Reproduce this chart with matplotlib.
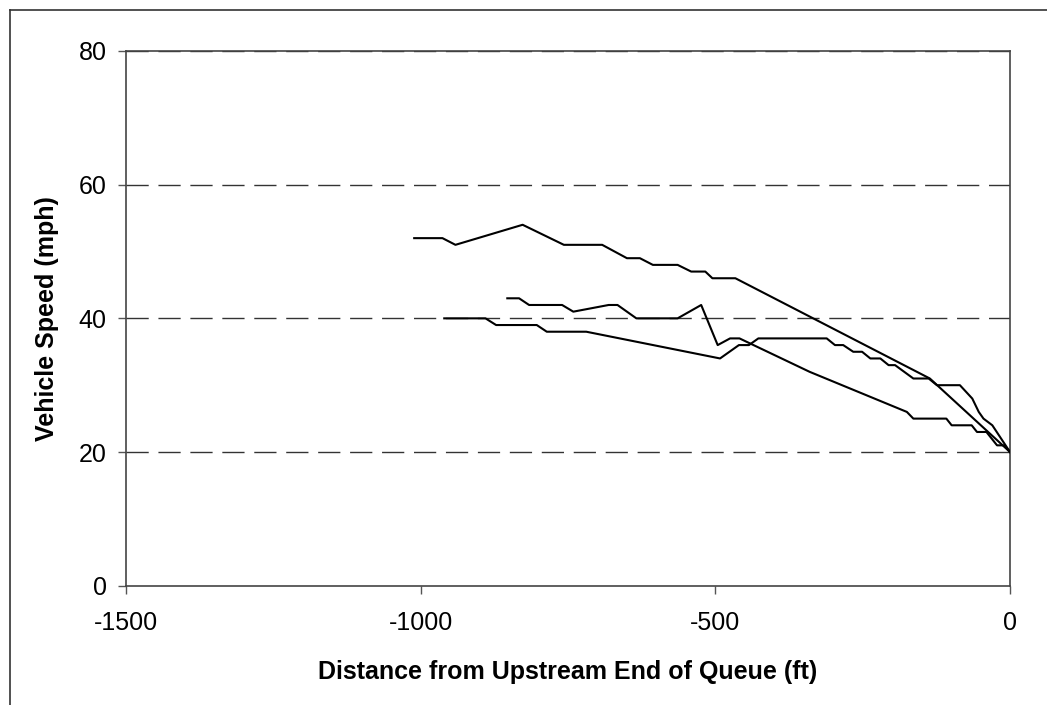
import matplotlib
matplotlib.use("Agg")
import matplotlib.pyplot as plt
from matplotlib.lines import Line2D

plt.rcParams['font.family'] = ['Liberation Sans', 'DejaVu Sans']
plt.rcParams['axes.unicode_minus'] = False

# Series A (upper)
dist_a = [-1011, -963, -941, -827, -757, -692, -650, -628, -606, -564, -541, -517, -505, -466, -136, 0]
speed_a = [52, 52, 51, 54, 51, 51, 49, 49, 48, 48, 47, 47, 46, 46, 31, 20]

# Series B
dist_b = [-853, -833, -816, -760, -741, -681, -666, -634, -564, -524, -496, -475, -459, -340, -175,
          -164, -108, -99, -65, -56, -40, -22, -10, 0]
speed_b = [43, 43, 42, 42, 41, 42, 42, 40, 40, 42, 36, 37, 37, 32, 26,
           25, 25, 24, 24, 23, 23, 21, 21, 20]

# Series C
dist_c = [-960, -890, -872, -803, -786, -719, -492, -460, -443, -427, -311, -297, -283, -266, -251,
          -237, -220, -206, -195, -164, -138, -124, -85, -64, -53, -45, -30, 0]
speed_c = [40, 40, 39, 39, 38, 38, 34, 36, 36, 37, 37, 36, 36, 35, 35,
           34, 34, 33, 33, 31, 31, 30, 30, 28, 26, 25, 24, 20]

x_ticks = [-1500, -1000, -500, 0]
y_ticks = [0, 20, 40, 60, 80]

fig = plt.figure(figsize=(10.47, 7.05), dpi=100)
ax = fig.add_axes([126/1047, (705-585.7)/705, 884/1047, 534.7/705])

for y in y_ticks[1:]:
    ax.axhline(y, color='#333333', lw=1.0, dashes=(16, 7), zorder=1)

for d, s in [(dist_a, speed_a), (dist_b, speed_b), (dist_c, speed_c)]:
    ax.plot(d, s, color='black', lw=1.5, zorder=3)

ax.set_xlim(-1500, 0)
ax.set_ylim(0, 80)
ax.set_xticks(x_ticks)
ax.set_yticks(y_ticks)
ax.tick_params(axis='both', direction='out', length=6, width=1.0, color='#555555',
               labelsize=18)
ax.tick_params(axis='x', pad=12)
ax.tick_params(axis='y', pad=8)
for sp in ax.spines.values():
    sp.set_color('#444444')
    sp.set_linewidth(1.2)

ax.set_xlabel('Distance from Upstream End of Queue (ft)', fontsize=18, fontweight='bold', labelpad=18)
ax.set_ylabel('Vehicle Speed (mph)', fontsize=18, fontweight='bold', labelpad=14)

# outer chart border (partially cropped)
fig.add_artist(Line2D([9.5/1047, 9.5/1047], [0, (705-10)/705], transform=fig.transFigure,
                      color='#333333', lw=1.2))
fig.add_artist(Line2D([9.5/1047, 1.0], [(705-10)/705, (705-10)/705], transform=fig.transFigure,
                      color='#333333', lw=1.2))

fig.savefig('out.png', dpi=100)
